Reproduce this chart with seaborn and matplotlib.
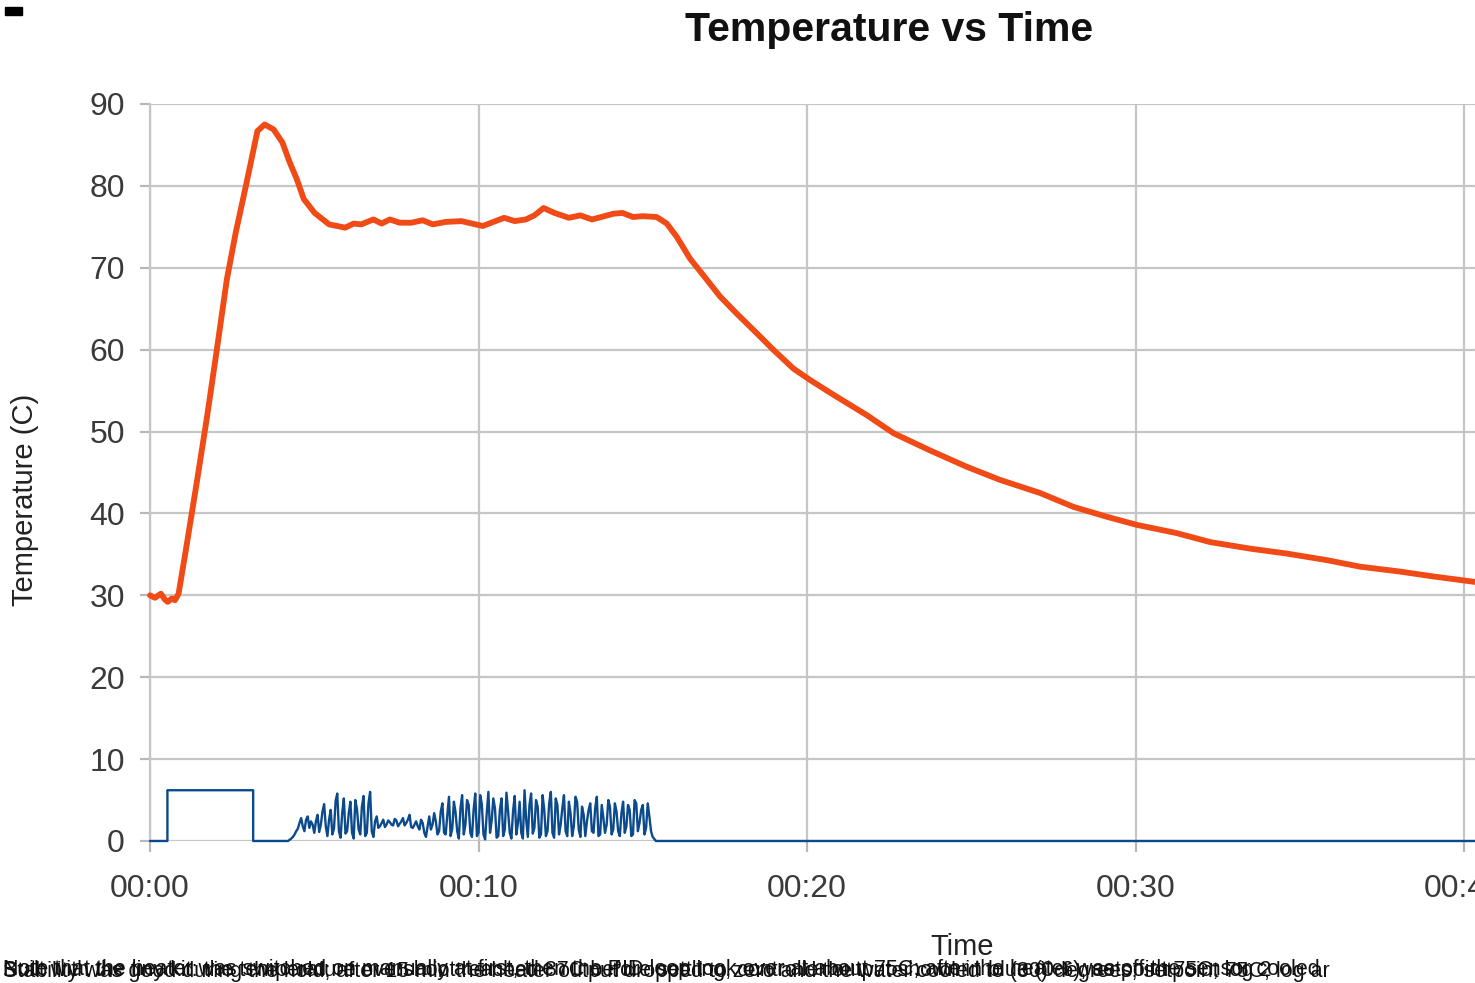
import numpy as np
import pandas as pd
import matplotlib
matplotlib.use("Agg")
import matplotlib.pyplot as plt
from matplotlib.patches import Rectangle
import seaborn as sns

# ---------------- data (time in minutes) ----------------
temp_time = [0.0, 0.15, 0.33, 0.45, 0.54, 0.66, 0.76, 0.87, 1.09, 1.42, 1.74, 2.02, 2.34,
             2.61, 2.94, 3.27, 3.49, 3.76, 4.03, 4.25, 4.47, 4.68, 5.01, 5.45, 5.94, 6.2,
             6.43, 6.8, 7.05, 7.3, 7.6, 7.95, 8.3, 8.61, 9.0, 9.48, 9.8, 10.13, 10.45,
             10.78, 11.1, 11.44, 11.7, 11.98, 12.31, 12.75, 13.1, 13.45, 13.83, 14.1,
             14.38, 14.7, 15.0, 15.42, 15.73, 16.03, 16.44, 16.84, 17.35, 17.86, 18.47,
             18.97, 19.58, 20.09, 20.8, 21.82, 22.63, 23.74, 24.86, 25.87, 27.09, 28.11,
             29.12, 30.04, 31.25, 32.27, 33.49, 34.6, 35.82, 36.83, 38.05, 39.07, 40.4]
temp_vals = [30.0, 29.7, 30.2, 29.5, 29.2, 29.6, 29.4, 30.2, 35.5, 43.7, 51.9, 59.6, 68.6,
             74.3, 80.4, 86.7, 87.5, 86.9, 85.3, 82.9, 80.8, 78.4, 76.7, 75.3, 74.9, 75.4,
             75.3, 75.9, 75.4, 75.9, 75.5, 75.5, 75.8, 75.3, 75.6, 75.7, 75.4, 75.1, 75.6,
             76.1, 75.7, 75.9, 76.4, 77.3, 76.7, 76.1, 76.4, 75.9, 76.3, 76.6,
             76.7, 76.2, 76.3, 76.2, 75.4, 73.8, 71.1, 69.1, 66.5, 64.4, 62.0,
             60.0, 57.7, 56.3, 54.5, 52.0, 49.8, 47.7, 45.7, 44.1, 42.5, 40.8,
             39.6, 38.6, 37.6, 36.5, 35.7, 35.1, 34.3, 33.5, 32.9, 32.3, 31.6]

# heater duty: manual pulse, then controller output, then off
duty_head_time = [0.0, 0.53, 0.53, 3.14, 3.14, 4.2]
duty_head_vals = [0.0, 0.0, 6.2, 6.2, 0.0, 0.0]
duty_ctrl_vals = [0.3, 0.8, 1.5, 2.8, 1.2, 3.0, 2.4,
                  1.0, 3.2, 2.0, 4.5, 0.6, 3.8, 1.5, 5.8, 0.4, 5.2,
                  1.2, 4.8, 0.3, 3.9, 0.8, 5.5, 1.0, 6.0, 0.5, 3.0,
                  1.8, 2.6, 2.0, 2.3, 1.9, 2.5, 2.1, 2.8, 2.2, 3.2,
                  1.6, 2.4, 1.4, 2.2, 0.5, 3.0, 2.0, 2.4, 1.2, 4.6,
                  0.8, 5.4, 1.5, 3.5, 0.3, 5.6, 2.0, 4.4, 0.5, 5.8,
                  1.0, 4.5, 0.2, 6.0, 2.5, 4.0, 0.6, 5.2, 1.4, 3.6,
                  0.3, 5.5, 2.2, 1.0, 6.2, 0.5, 5.8, 1.6, 4.2, 0.8,
                  3.8, 1.2, 6.0, 0.4, 4.4, 2.0, 5.6, 0.6, 3.4, 1.8,
                  4.8, 0.5, 3.2, 2.4, 4.6, 1.0, 5.4, 0.8, 2.8, 2.0,
                  4.2, 1.4, 3.6, 0.6, 4.8, 1.8, 3.8, 0.8, 4.6, 2.2,
                  4.4, 1.6, 3.0, 0.5]
duty_ctrl_time = list(np.round(np.arange(4.3, 15.35, 0.1), 2))[:len(duty_ctrl_vals)]
duty_mid_vals = [0.5, 1.2, 2.2, 1.8, 2.6, 1.6, 2.0,
                 2.4, 1.1, 3.6, 1.8, 2.6, 0.8, 4.9, 1.2, 3.4, 0.9,
                 3.4, 1.0, 5.0, 1.4, 4.2, 0.6, 4.6, 1.2, 2.4, 1.6,
                 2.2, 1.7, 2.5, 2.0, 2.7, 1.8, 2.4, 1.9, 2.6, 1.7,
                 2.0, 1.8, 2.6, 1.0, 1.8, 1.4, 3.4, 0.8, 3.6, 1.0,
                 3.2, 0.6, 4.8, 1.2, 4.0, 0.8, 5.0, 1.0, 3.8, 0.6,
                 5.6, 0.8, 3.4, 1.0, 5.2, 0.4, 3.8, 0.6, 5.9, 1.0,
                 3.6, 0.8, 4.8, 0.3, 2.6, 4.4, 0.9, 5.0, 0.4, 5.6,
                 0.6, 4.6, 1.0, 5.2, 0.8, 4.0, 1.2, 4.8, 0.6, 5.4,
                 1.4, 4.2, 0.6, 3.8, 1.2, 4.0, 0.6, 4.4, 1.0, 5.0,
                 0.8, 4.6, 1.2, 3.4, 1.0, 4.4, 0.6, 5.0, 1.2, 3.8,
                 0.8, 4.6, 1.2]
duty_mid_time = list(np.round(np.arange(4.35, 15.3, 0.1), 2))[:len(duty_mid_vals)]
duty_tail_time = [15.4, 40.4]
duty_tail_vals = [0.0, 0.0]

x_ticks = [0, 10, 20, 30, 40]
x_ticklabels = ["00:00", "00:10", "00:20", "00:30", "00:40"]
y_ticks = [0, 10, 20, 30, 40, 50, 60, 70, 80, 90]

note_lines = [
    "Note that the heater was switched on manually at first, then the PID loop took over at about 75C; after the heater was off the sensor cooled",
    "Built with the tiny kit: the temperature overshoot reached 87C before settling, controller output shown in blue (0-6), setpoint 75C, log 2",
    "Stability was good during the hold; after 15 min the heater output dropped to zero and the water cooled to (30) degrees; setpoint 75C, log ar",
]

# ---------------- plot ----------------
sns.set_theme(style="whitegrid")
plt.rcParams["font.family"] = ["Liberation Sans", "DejaVu Sans"]

fig = plt.figure(figsize=(14.75, 9.83), dpi=100, facecolor="white")
ax = fig.add_axes([150 / 1475, 142 / 983, 1 - 150 / 1475, 737 / 983])
ax.set_facecolor("white")

df_t = pd.DataFrame({"time": temp_time, "temp": temp_vals})
df_ctrl = pd.DataFrame({"time": duty_ctrl_time + duty_mid_time,
                        "duty": duty_ctrl_vals + duty_mid_vals}).sort_values("time")
df_d = pd.concat([
    pd.DataFrame({"time": duty_head_time, "duty": duty_head_vals}),
    df_ctrl,
    pd.DataFrame({"time": duty_tail_time, "duty": duty_tail_vals}),
], ignore_index=True)

sns.lineplot(data=df_d, x="time", y="duty", ax=ax, color="#0b4a8c", linewidth=1.7,
             estimator=None, sort=False, zorder=3)
sns.lineplot(data=df_t, x="time", y="temp", ax=ax, color="#f04a16", linewidth=4.2,
             estimator=None, sort=False, zorder=4)
for line in ax.lines:
    line.set_clip_on(False)

ax.set_xlim(0, 40.33)
ax.set_ylim(0, 90)
ax.set_xticks(x_ticks)
ax.set_xticklabels(x_ticklabels)
ax.set_yticks(y_ticks)

ax.grid(True, color="#c6c6c6", linewidth=1.6)
for s in ["top", "right", "bottom"]:
    ax.spines[s].set_visible(False)
ax.spines["left"].set_color("#c6c6c6")
ax.spines["left"].set_linewidth(1.6)

ax.tick_params(axis="both", which="both", colors="#b8b8b8", width=1.6,
               labelcolor="#3a3a3a", labelsize=23)
ax.tick_params(axis="x", length=8, pad=16, bottom=True)
ax.tick_params(axis="y", length=7, pad=11, left=True)

ax.set_xlabel("Time", fontsize=21, color="#222222")
ax.xaxis.set_label_coords(0.613, -0.125)
ax.set_ylabel("Temperature (C)", fontsize=21, color="#222222")
ax.yaxis.set_label_coords(-0.084, 0.463)

fig.text(889 / 1475, 1 - 30 / 983, "Temperature vs Time", ha="center", va="center",
         fontsize=29.5, fontweight="bold", color="#111111")

for i, line in enumerate(note_lines):
    fig.text(0.002, 1 - (969 + i * 1.5) / 983, line, ha="left", va="center",
             fontsize=15.5, color="#111111")

fig.patches.append(Rectangle((5 / 1475, 1 - 15 / 983), 17 / 1475, 8 / 983,
                             transform=fig.transFigure, color="black"))

fig.savefig("out.png", dpi=100, facecolor="white")
